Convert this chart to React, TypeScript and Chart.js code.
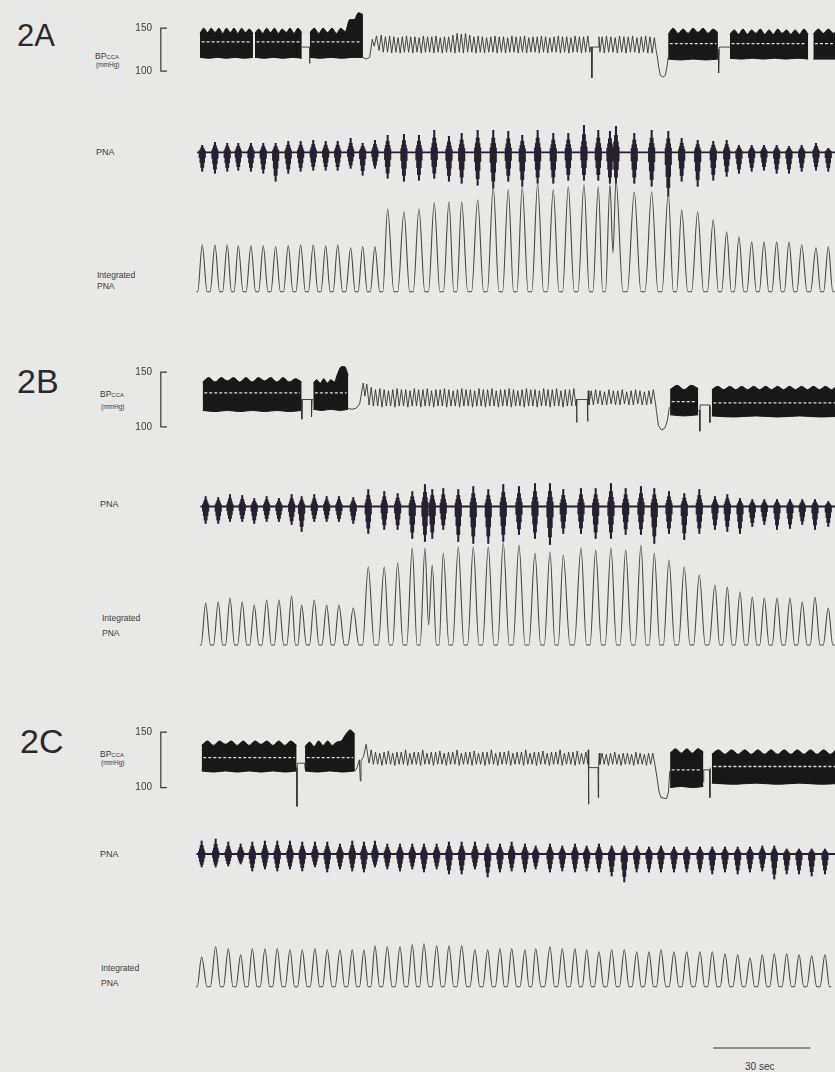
import React, { useEffect, useRef } from "react";
import { Chart, registerables } from "chart.js";

Chart.register(...registerables);

// ---------- shared time axis (seconds) ----------
const X_MIN = -13.9;
const X_MAX = 196.4;
const SCALE_BAR = [158.75, 188.75];
const BP_TICKS = [100, 150];
const BRACKET_T = [-10.2, -12.1];

// ---------- Panel 2A ----------
const cycA = [0.71, 4.64, 8.44, 11.85, 15.77, 19.58, 23.41, 27.31, 31.14, 35.04, 38.88, 42.59, 46.61, 50.32, 54.12, 58.05, 63.09, 67.73, 72.46, 77.01, 80.94, 85.89, 90.71, 95.35, 99.68, 104.44, 109.27, 113.91, 118.76, 123.19, 126.8, 128.66, 134.32, 139.7, 144.84, 148.98, 153.93, 158.75, 162.9, 166.7, 170.63, 174.43, 178.36, 182.17, 186.09, 190.52, 194.32];
const intA = [47, 47, 47, 46, 46, 46, 45, 46, 47, 47, 46, 47, 44, 45, 45, 83, 80, 83, 89, 90, 90, 92, 105, 102, 105, 108, 102, 105, 107, 105, 107, 112, 100, 100, 99, 82, 80, 72, 60, 55, 50, 50, 50, 50, 47, 44, 45];
const dipA: Record<number, number> = { 31: 39 };
const pnaUpA = [7, 10, 9, 9, 9, 9, 9, 11, 11, 12, 11, 11, 14, 9, 12, 17, 18, 17, 22, 16, 19, 22, 22, 21, 17, 22, 19, 19, 27, 22, 21, 26, 19, 22, 21, 14, 12, 11, 12, 7, 7, 7, 7, 6, 7, 9, 4];
const pnaDownA = [19, 21, 19, 18, 19, 21, 29, 21, 19, 18, 18, 18, 16, 23, 16, 26, 29, 28, 26, 29, 31, 33, 36, 29, 34, 31, 31, 28, 28, 28, 31, 31, 31, 34, 44, 29, 34, 28, 24, 21, 19, 18, 21, 21, 19, 18, 19];

const bpA_blockStart = [0.0, 17.0, 34.0, 144.8, 163.9, 189.7];
const bpA_blockEnd = [16.4, 31.5, 50.4, 160.2, 188.1, 199];
const bpA_blockTop = [
  [144, 150, 145, 150, 145, 150, 144, 150, 145, 150, 144, 150, 145, 149, 144],
  [144, 149, 144, 150, 145, 150, 144, 149, 145, 150, 144, 150, 145],
  [145, 150, 144, 150, 145, 150, 144, 150, 146, 160, 160, 168, 166],
  [143, 150, 144, 149, 144, 150, 145, 150, 144, 149, 145],
  [143, 148, 143, 149, 143, 148, 144, 149, 143, 148, 143, 149, 144, 148, 143, 148, 143, 149, 143],
  [143, 149, 144, 149, 144, 149, 144],
];
const bpA_blockBottom = [
  [116, 115, 116, 115, 116, 115, 116],
  [116, 115, 116, 115, 116, 115],
  [116, 115, 116, 115, 116, 116],
  [114, 113, 114, 113, 114],
  [115, 114, 115, 114, 115, 114, 115, 114],
  [114, 114],
];
const bpA_white = [134, 134, 134, 132, 132, 132];
const bpA_links = [
  [[31.5, 128], [33.9, 128], [33.9, 109], [34.0, 128]],
  [[50.4, 116], [51.4, 114], [52.5, 116], [53.3, 137], [53.9, 129], [54.6, 141], [55.2, 128]],
  [[120.8, 128], [121.2, 128], [121.2, 92], [121.3, 128], [123.2, 128], [123.4, 140]],
  [[141.4, 118], [141.9, 104], [142.4, 95], [143.2, 93], [143.9, 95], [144.4, 104], [144.8, 116]],
  [[160.2, 125], [160.4, 125], [160.4, 98], [160.6, 128], [163.9, 128]],
];
const bpA_segStart = [55.4, 123.7];
const bpA_segEnd = [120.6, 141.2];
const bpA_sys = [
  [142, 140, 141, 140, 139, 140, 141, 140, 140, 139, 141, 140, 140, 141, 139, 140, 140, 142, 144, 143, 144, 142, 140, 141, 140, 139, 140, 141, 140, 140, 139, 141, 140, 140, 141, 139, 140, 140, 141, 140, 139, 140, 141, 140, 140, 139, 141, 140, 140, 141],
  [140, 141, 140, 139, 141, 140, 140, 141, 139, 140, 141, 140, 139],
];
const bpA_dia = [
  [124, 122, 122, 121, 122, 121, 122, 122, 121, 122, 121, 122, 122, 121, 122, 121, 122, 122, 121, 122, 121, 122, 122, 121, 122, 121, 122, 122, 121, 122, 121, 122, 122, 121, 122, 121, 122, 122, 121, 122, 121, 122, 122, 121, 122, 121, 122, 122, 121, 122],
  [122, 121, 122, 122, 121, 122, 121, 122, 122, 121, 122, 121, 121],
];

// ---------- Panel 2B ----------
const cycB = [1.76, 5.66, 9.28, 13.08, 16.79, 20.63, 24.43, 28.36, 31.45, 35.35, 39.19, 42.99, 47.41, 52.05, 57.0, 61.14, 65.66, 69.59, 71.85, 75.25, 79.89, 84.53, 89.17, 93.81, 98.66, 103.61, 108.25, 112.36, 117.84, 122.38, 127.11, 131.66, 136.39, 140.51, 145.05, 149.78, 154.43, 159.28, 163.09, 167.01, 170.82, 174.53, 178.46, 182.48, 186.28, 190.21, 194.32];
const intB = [42, 43, 47, 43, 40, 45, 45, 49, 40, 45, 40, 40, 37, 78, 78, 82, 97, 97, 80, 92, 98, 98, 98, 102, 100, 92, 93, 90, 97, 95, 97, 95, 100, 92, 85, 78, 70, 60, 58, 53, 48, 47, 47, 47, 43, 48, 37];
const dipB: Record<number, number> = { 18: 20 };
const pnaUpB = [10, 9, 12, 11, 8, 10, 8, 12, 10, 12, 10, 10, 9, 17, 15, 13, 15, 22, 17, 18, 17, 20, 17, 22, 20, 23, 23, 17, 18, 18, 23, 18, 20, 18, 15, 13, 17, 10, 12, 8, 7, 7, 7, 7, 7, 7, 5];
const pnaDownB = [17, 17, 15, 15, 17, 15, 15, 18, 25, 15, 15, 15, 17, 27, 23, 23, 32, 35, 32, 23, 35, 37, 37, 35, 28, 32, 38, 27, 27, 32, 32, 28, 28, 37, 27, 33, 27, 23, 25, 27, 20, 18, 23, 22, 18, 23, 20];

const bpB_blockStart = [0.84, 35.05, 145.4, 158.3];
const bpB_blockEnd = [31.45, 45.87, 154.1, 199];
const bpB_blockTop = [
  [141, 145, 141, 145, 142, 145, 141, 145, 141, 145, 142, 145, 141, 145, 141, 144, 141],
  [140, 143, 140, 144, 140, 143, 141, 149, 155, 155, 147],
  [134, 138, 134, 138, 135],
  [134, 137, 134, 137, 134, 137, 134, 137, 134, 137, 134, 137, 134, 137, 134, 137, 134, 137, 134, 137, 134, 137, 134],
];
const bpB_blockBottom = [
  [115, 114, 115, 114, 115, 114, 115, 114, 115],
  [116, 115, 116, 115, 116],
  [111, 110, 111],
  [110, 109, 110, 109, 110, 109, 110],
];
const bpB_white = [131, 131, 123, 122];
const bpB_links = [
  [[31.5, 125], [31.5, 107], [31.6, 125], [34.5, 125], [34.5, 109], [34.7, 125], [35.05, 125]],
  [[45.9, 117], [47.0, 116], [48.3, 117], [49.4, 121], [50.5, 140], [51.0, 128], [51.6, 139], [52.1, 126]],
  [[116.5, 125], [116.5, 104], [116.6, 125], [119.8, 125], [119.9, 105], [120.0, 125], [120.1, 133]],
  [[141.2, 114], [141.8, 101], [142.8, 97], [143.8, 99], [144.5, 105], [145.2, 118]],
  [[154.1, 115], [154.5, 115], [154.6, 96], [154.7, 120], [157.6, 120], [157.7, 104], [157.8, 118]],
];
const bpB_segStart = [52.3, 120.3];
const bpB_segEnd = [116.3, 140.9];
const bpB_sys = [
  [136, 134, 135, 134, 133, 134, 135, 134, 134, 133, 135, 134, 134, 135, 133, 134, 134, 135, 134, 133, 134, 135, 134, 134, 133, 135, 134, 134, 135, 133, 134, 134, 135, 134, 133, 134, 135, 134, 134, 133, 135, 134, 134, 135, 133, 134, 134, 135],
  [133, 134, 133, 132, 134, 133, 133, 134, 132, 133, 134, 133, 132, 133, 134],
];
const bpB_dia = [
  [120, 119, 119, 118, 119, 119, 118, 119, 119, 118, 119, 119, 118, 119, 119, 118, 119, 119, 118, 119, 119, 118, 119, 119, 118, 119, 119, 118, 119, 119, 118, 119, 119, 118, 119, 119, 118, 119, 119, 118, 119, 119, 118, 119, 119, 118, 119, 119],
  [120, 120, 121, 120, 120, 121, 120, 120, 121, 120, 120, 121, 120, 120, 121],
];

// ---------- Panel 2C ----------
const cycC = [0.53, 4.86, 8.75, 12.59, 16.18, 20.1, 23.91, 27.84, 31.64, 35.57, 39.37, 43.3, 47.1, 50.72, 54.12, 57.93, 61.86, 65.66, 69.28, 73.21, 77.01, 80.94, 85.05, 88.98, 92.78, 96.4, 100.52, 103.83, 108.25, 112.05, 115.98, 119.6, 123.4, 127.33, 131.23, 135.06, 138.87, 142.58, 146.6, 150.53, 154.64, 158.44, 162.37, 166.3, 170.1, 173.91, 177.62, 181.46, 185.26, 189.19, 193.3];
const intC = [30, 40, 38, 32, 38, 38, 38, 37, 37, 38, 37, 37, 37, 37, 41, 40, 40, 42, 43, 41, 41, 41, 37, 37, 38, 38, 37, 38, 40, 38, 38, 37, 35, 37, 37, 35, 35, 37, 35, 35, 35, 35, 33, 32, 29, 32, 33, 33, 32, 31, 32];
const dipC: Record<number, number> = {};
const pnaUpC = [13, 15, 12, 10, 12, 13, 13, 13, 12, 12, 12, 10, 13, 12, 13, 10, 10, 10, 10, 10, 12, 12, 12, 10, 10, 12, 10, 8, 10, 8, 10, 8, 10, 8, 8, 8, 7, 8, 7, 7, 7, 7, 7, 7, 7, 8, 8, 5, 5, 5, 5];
const pnaDownC = [13, 13, 12, 10, 17, 15, 17, 15, 17, 13, 18, 15, 17, 18, 13, 15, 17, 15, 18, 15, 20, 20, 15, 23, 18, 17, 18, 15, 18, 17, 18, 17, 18, 22, 28, 18, 18, 18, 18, 18, 18, 20, 18, 20, 18, 17, 25, 20, 20, 22, 20];

const bpC_blockStart = [0.53, 32.5, 145.4, 158.3];
const bpC_blockEnd = [29.9, 47.9, 155.7, 199];
const bpC_blockTop = [
  [138, 142, 138, 142, 139, 142, 138, 142, 138, 142, 139, 142, 138, 142, 138, 142, 138],
  [137, 141, 137, 142, 138, 142, 138, 141, 142, 148, 152, 148],
  [131, 135, 131, 135, 131, 135, 132],
  [130, 134, 130, 134, 130, 134, 130, 134, 130, 134, 130, 134, 130, 134, 130, 134, 130, 134, 130, 134, 130],
];
const bpC_blockBottom = [
  [115, 114, 115, 114, 115, 114, 115, 114, 115],
  [115, 114, 115, 114, 115],
  [100, 101, 100, 101],
  [104, 103, 104, 103, 104, 103, 104],
];
const bpC_white = [127, 127, 116, 119];
const bpC_links = [
  [[29.9, 118], [30.0, 83], [30.1, 122], [32.4, 122], [32.5, 117]],
  [[47.9, 115], [48.6, 118], [49.3, 125], [49.6, 106], [49.8, 124], [50.6, 128], [51.4, 139], [52.0, 127]],
  [[120.1, 134], [120.15, 85], [120.3, 118], [123.1, 118], [123.2, 91], [123.3, 120], [123.5, 131]],
  [[141.3, 110], [142.0, 96], [142.6, 91], [144.3, 90], [144.9, 96], [145.3, 115]],
  [[155.7, 105], [155.8, 116], [157.6, 116], [157.7, 91], [157.8, 118]],
];
const bpC_segStart = [52.3, 123.7];
const bpC_segEnd = [120.0, 140.7];
const bpC_sys = [
  [134, 132, 131, 132, 133, 131, 132, 132, 134, 131, 132, 132, 134, 131, 132, 132, 133, 131, 132, 132, 134, 131, 132, 132, 133, 131, 132, 132, 134, 131, 132, 132, 133, 131, 132, 132, 134, 131, 132, 132, 133, 131, 132, 132, 134, 131, 132, 132, 133, 131, 132],
  [131, 130, 131, 132, 130, 131, 131, 130, 132, 131, 130, 131, 131],
];
const bpC_dia = [
  [122, 121, 121, 120, 121, 121, 120, 121, 121, 120, 121, 121, 120, 121, 121, 120, 121, 121, 120, 121, 121, 120, 121, 121, 120, 121, 121, 120, 121, 121, 120, 121, 121, 120, 121, 121, 120, 121, 121, 120, 121, 121, 120, 121, 121, 120, 121, 121, 120, 121, 121],
  [121, 121, 120, 121, 121, 120, 121, 121, 120, 121, 121, 120, 121],
];

// ---------- styling ----------
const FONT = '"Liberation Sans", Arial, Helvetica, sans-serif';
const BG = "#e8e8e6";
const INK = "#181818";
const BURST = "#252131";
const THIN = "#333333";
const INTEG = "#474747";
const TROUGH_WIDTH = 0.12; // share of a breath spent on the rounded floor, each side of its centre

type Pt = { x: number; y: number | null };

function zigzag(t0: number, t1: number, sys: number[], dia: number[]): Pt[] {
  const n = sys.length;
  const dt = (t1 - t0) / n;
  const pts: Pt[] = [];
  for (let i = 0; i < n; i++) {
    pts.push({ x: t0 + i * dt, y: dia[i] });
    pts.push({ x: t0 + (i + 0.5) * dt, y: sys[i] });
  }
  pts.push({ x: t1, y: dia[n - 1] });
  return pts;
}

function spread(t0: number, t1: number, vals: number[]): Pt[] {
  const n = vals.length;
  return vals.map((v, k) => ({ x: t0 + (k * (t1 - t0)) / (n - 1 || 1), y: v }));
}

function baseOptions(yMin: number, yMax: number, withAxis: boolean): any {
  return {
    animation: false,
    responsive: false,
    maintainAspectRatio: false,
    events: [],
    layout: {
      autoPadding: false,
      padding: { left: withAxis ? 0 : 35, right: 0, top: 0, bottom: 0 },
    },
    plugins: { legend: { display: false }, tooltip: { enabled: false }, title: { display: false } },
    elements: { point: { radius: 0 } },
    scales: {
      x: { type: "linear", min: X_MIN, max: X_MAX, display: false, offset: false },
      y: withAxis
        ? {
            type: "linear",
            min: yMin,
            max: yMax,
            display: true,
            position: "left",
            grid: { display: false, drawTicks: false },
            border: { display: false },
            ticks: { padding: 3, color: "#3a3a3a", font: { family: FONT, size: 10 } },
            afterBuildTicks: (axis: any) => {
              axis.ticks = BP_TICKS.map((v) => ({ value: v }));
            },
            afterFit: (axis: any) => {
              axis.width = 35;
              axis.paddingTop = 0;
              axis.paddingBottom = 0;
            },
          }
        : { type: "linear", min: yMin, max: yMax, display: false },
    },
  };
}

function bpConfig(
  blockStart: number[], blockEnd: number[], blockTop: number[][], blockBottom: number[][], white: number[],
  links: number[][][], segStart: number[], segEnd: number[], sys: number[][], dia: number[][],
  yMin: number, yMax: number
) {
  const thin: Pt[] = [];
  links.forEach((l) => l.forEach(([x, y]) => thin.push({ x, y })));
  segStart.forEach((s, i) => thin.push(...zigzag(s, segEnd[i], sys[i], dia[i])));
  blockStart.forEach((s, i) => thin.push({ x: (s + blockEnd[i]) / 2, y: null }));
  thin.sort((a, b) => a.x - b.x);

  const whitePts: Pt[] = [];
  blockStart.forEach((s, i) => {
    whitePts.push({ x: s + 0.5, y: white[i] });
    whitePts.push({ x: blockEnd[i] - 0.5, y: white[i] });
    whitePts.push({ x: blockEnd[i], y: null });
  });

  const datasets: any[] = [
    {
      type: "line",
      data: [
        { x: BRACKET_T[0], y: BP_TICKS[1] },
        { x: BRACKET_T[1], y: BP_TICKS[1] },
        { x: BRACKET_T[1], y: BP_TICKS[0] },
        { x: BRACKET_T[0], y: BP_TICKS[0] },
      ],
      borderColor: "#3a3a3a",
      borderWidth: 1.2,
      pointRadius: 0,
      fill: false,
    },
    {
      type: "line",
      data: whitePts,
      borderColor: "rgba(255,255,255,0.85)",
      borderWidth: 1.3,
      borderDash: [3, 2],
      pointRadius: 0,
      fill: false,
      spanGaps: false,
    },
    {
      type: "line",
      data: thin,
      borderColor: THIN,
      borderWidth: 0.9,
      pointRadius: 0,
      fill: false,
      spanGaps: false,
      tension: 0,
    },
  ];
  blockStart.forEach((s, i) => {
    datasets.push({
      type: "line",
      data: spread(s, blockEnd[i], blockTop[i]),
      borderColor: INK,
      backgroundColor: INK,
      borderWidth: 1,
      pointRadius: 0,
      fill: "+1",
      cubicInterpolationMode: "monotone",
    });
    datasets.push({
      type: "line",
      data: spread(s, blockEnd[i], blockBottom[i]),
      borderColor: INK,
      borderWidth: 1,
      pointRadius: 0,
      fill: false,
      cubicInterpolationMode: "monotone",
    });
  });
  return { type: "line", data: { datasets }, options: baseOptions(yMin, yMax, true) };
}

function pnaConfig(cyc: number[], up: number[], down: number[], yMin: number, yMax: number) {
  const mk = (fu: number, fd: number) => cyc.map((t, i) => ({ x: t, y: [-down[i] * fd, up[i] * fu] }));
  const bar = (fu: number, fd: number, w: number) => ({
    data: mk(fu, fd),
    backgroundColor: BURST,
    barThickness: w,
    grouped: false,
    borderWidth: 0,
  });
  return {
    type: "bar",
    data: {
      datasets: [
        {
          type: "line",
          data: [{ x: cyc[0] - 1.6, y: 0 }, { x: X_MAX, y: 0 }],
          borderColor: BURST,
          borderWidth: 1.8,
          pointRadius: 0,
          fill: false,
        },
        bar(0.2, 0.28, 6.5),
        bar(0.4, 0.55, 4.8),
        bar(0.65, 0.8, 3.2),
        bar(1, 1, 1.4),
      ],
    },
    options: baseOptions(yMin, yMax, false),
  };
}

function integratedConfig(cyc: number[], amp: number[], dips: Record<number, number>, yMin: number, yMax: number) {
  const pts: Pt[] = [{ x: cyc[0] - 1.8, y: 0 }, { x: cyc[0] - 1.4, y: 0 }];
  cyc.forEach((t, i) => {
    if (i > 0) {
      const prev = cyc[i - 1];
      const mid = (prev + t) / 2;
      const g = t - prev;
      if (dips[i] !== undefined) {
        pts.push({ x: mid, y: dips[i] });
      } else {
        pts.push({ x: mid - TROUGH_WIDTH * g, y: 0 });
        pts.push({ x: mid + TROUGH_WIDTH * g, y: 0 });
      }
    }
    pts.push({ x: t, y: amp[i] });
  });
  pts.push({ x: cyc[cyc.length - 1] + 1.4, y: 0 });
  pts.push({ x: cyc[cyc.length - 1] + 2.0, y: 0 });
  return {
    type: "line",
    data: {
      datasets: [
        {
          data: pts,
          borderColor: INTEG,
          borderWidth: 1.1,
          pointRadius: 0,
          fill: false,
          cubicInterpolationMode: "monotone",
        },
      ],
    },
    options: baseOptions(yMin, yMax, false),
  };
}

function scaleBarConfig() {
  return {
    type: "line",
    data: {
      datasets: [
        {
          data: [{ x: SCALE_BAR[0], y: 0 }, { x: SCALE_BAR[1], y: 0 }],
          borderColor: "#333",
          borderWidth: 1,
          pointRadius: 0,
          fill: false,
        },
      ],
    },
    options: baseOptions(-1, 1, false),
  };
}

function ChartCanvas({ top, height, make }: { top: number; height: number; make: () => any }) {
  const ref = useRef<HTMLCanvasElement | null>(null);
  useEffect(() => {
    if (!ref.current) return;
    const chart = new Chart(ref.current, make());
    return () => chart.destroy();
  }, []);
  return (
    <canvas
      ref={ref}
      width={715}
      height={height}
      style={{ position: "absolute", left: 120, top, width: 715, height, display: "block" }}
    />
  );
}

function Txt({ x, y, size, children, color = "#3a3a3a" }: { x: number; y: number; size: number; children: any; color?: string }) {
  return (
    <div
      style={{
        position: "absolute",
        left: x,
        top: y,
        transform: "translateY(-50%)",
        fontFamily: FONT,
        fontSize: size,
        lineHeight: 1,
        color,
        whiteSpace: "nowrap",
      }}
    >
      {children}
    </div>
  );
}

function BPLabel({ x, y1, y2 }: { x: number; y1: number; y2: number }) {
  return (
    <>
      <Txt x={x} y={y1} size={8.5}>
        BP<span style={{ fontSize: 6 }}>CCA</span>
      </Txt>
      <Txt x={x + 1} y={y2} size={6.5}>(mmHg)</Txt>
    </>
  );
}

export default function App() {
  return (
    <div
      style={{
        position: "absolute",
        left: 0,
        top: 0,
        width: 835,
        height: 1072,
        background: BG,
        overflow: "hidden",
      }}
    >
      {/* Panel 2A */}
      <Txt x={17} y={35} size={31} color="#2a2a2a">2A</Txt>
      <BPLabel x={95} y1={56} y2={65} />
      <Txt x={96} y={152} size={9}>PNA</Txt>
      <Txt x={97} y={275} size={8.5}>Integrated</Txt>
      <Txt x={97} y={286} size={8.5}>PNA</Txt>
      <ChartCanvas top={5} height={79} make={() => bpConfig(bpA_blockStart, bpA_blockEnd, bpA_blockTop, bpA_blockBottom, bpA_white, bpA_links, bpA_segStart, bpA_segEnd, bpA_sys, bpA_dia, 85, 177)} />
      <ChartCanvas top={120} height={80} make={() => pnaConfig(cycA, pnaUpA, pnaDownA, -47.7, 32.3)} />
      <ChartCanvas top={170} height={130} make={() => integratedConfig(cycA, intA, dipA, -8.3, 121.7)} />

      {/* Panel 2B */}
      <Txt x={17} y={380.5} size={34} color="#2a2a2a">2B</Txt>
      <BPLabel x={100} y1={394} y2={406.5} />
      <Txt x={100} y={503.5} size={9}>PNA</Txt>
      <Txt x={102} y={618} size={8.5}>Integrated</Txt>
      <Txt x={102} y={632.5} size={8.5}>PNA</Txt>
      <ChartCanvas top={359} height={81} make={() => bpConfig(bpB_blockStart, bpB_blockEnd, bpB_blockTop, bpB_blockBottom, bpB_white, bpB_links, bpB_segStart, bpB_segEnd, bpB_sys, bpB_dia, 88, 162)} />
      <ChartCanvas top={470} height={80} make={() => pnaConfig(cycB, pnaUpB, pnaDownB, -43.5, 36.5)} />
      <ChartCanvas top={530} height={125} make={() => integratedConfig(cycB, intB, dipB, -10, 115)} />

      {/* Panel 2C */}
      <Txt x={20} y={741} size={34} color="#2a2a2a">2C</Txt>
      <BPLabel x={100} y1={753.5} y2={762.5} />
      <Txt x={100} y={854} size={9}>PNA</Txt>
      <Txt x={101} y={968} size={8.5}>Integrated</Txt>
      <Txt x={101} y={982.5} size={8.5}>PNA</Txt>
      <ChartCanvas top={721} height={91} make={() => bpConfig(bpC_blockStart, bpC_blockEnd, bpC_blockTop, bpC_blockBottom, bpC_white, bpC_links, bpC_segStart, bpC_segEnd, bpC_sys, bpC_dia, 78, 160)} />
      <ChartCanvas top={825} height={60} make={() => pnaConfig(cycC, pnaUpC, pnaDownC, -31, 29)} />
      <ChartCanvas top={930} height={65} make={() => integratedConfig(cycC, intC, dipC, -8.3, 56.7)} />

      {/* time scale bar */}
      <ChartCanvas top={1040} height={16} make={scaleBarConfig} />
      <Txt x={745} y={1066.5} size={10}>30 sec</Txt>
    </div>
  );
}
